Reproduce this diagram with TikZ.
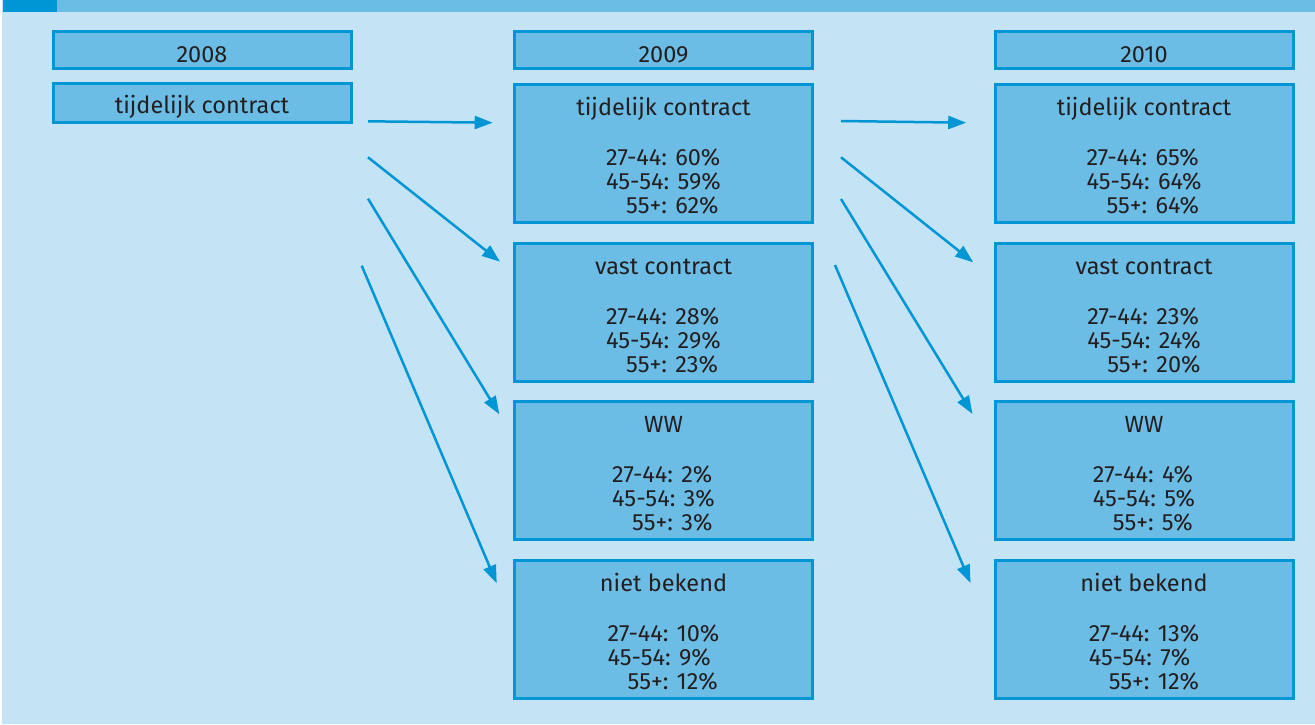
\documentclass[tikz,border=0pt]{standalone}
\usepackage{fontspec}
\setmainfont{Fira Sans}
\usetikzlibrary{arrows.meta,calc}
\definecolor{bgblue}{HTML}{C4E3F5}
\definecolor{fillblue}{HTML}{6CBDE6}
\definecolor{lineblue}{HTML}{0096D6}
\definecolor{txt}{HTML}{231F20}
\newcommand{\ttl}[1]{\rule{0pt}{29.2pt}#1\\[26pt]}
\newcommand{\stats}[3]{\begin{tabular}[t]{@{}l@{}}#1\\#2\\\hspace*{20pt}#3\end{tabular}}
\begin{document}
\begin{tikzpicture}[x=1pt,y=-1pt,
  box/.style={draw=lineblue, line width=3pt, fill=fillblue, minimum width=298pt,
    inner sep=0pt, align=center, text=txt,
    font=\fontsize{23.5}{24}\selectfont},
  headbox/.style={box, minimum height=37pt, text height=30pt, text depth=5pt},
  statbox/.style={box, minimum height=138pt},
  arr/.style={draw=lineblue, line width=2.5pt, -{Triangle[length=18pt,width=13pt]}}]
\useasboundingbox (0,0) rectangle (1315,724);
\fill[bgblue] (2,0) rectangle (1315,724);
\fill[fillblue] (3,0) rectangle (1315,12);
\fill[lineblue] (3,0) rectangle (57,12);
% column 2008
\node[headbox] (h8) at (202,50) {2008};
\node[box, minimum height=39pt, text height=24pt, text depth=3.4pt] (t8) at (202,103) {tijdelijk contract};
% column 2009
\node[headbox] (h9) at (663.5,50) {2009};
\node[statbox] (t9) at (663.5,153.5) {\ttl{tijdelijk contract}\stats{27-44: 60\%}{45-54: 59\%}{55+: 62\%}};
\node[statbox] (v9) at (663.5,312) {\ttl{vast contract}\stats{27-44: 28\%}{45-54: 29\%}{55+: 23\%}};
\node[statbox] (w9) at (663.5,470.5) {\ttl{WW}\stats{27-44: 2\%}{45-54: 3\%}{55+: 3\%}};
\node[statbox] (n9) at (663.5,629) {\ttl{niet bekend}\stats{27-44: 10\%}{45-54: 9\%}{55+: 12\%}};
% column 2010
\node[headbox] (h10) at (1144,50) {2010};
\node[statbox] (t10) at (1144,153.5) {\ttl{tijdelijk contract}\stats{27-44: 65\%}{45-54: 64\%}{55+: 64\%}};
\node[statbox] (v10) at (1144,312) {\ttl{vast contract}\stats{27-44: 23\%}{45-54: 24\%}{55+: 20\%}};
\node[statbox] (w10) at (1144,470.5) {\ttl{WW}\stats{27-44: 4\%}{45-54: 5\%}{55+: 5\%}};
\node[statbox] (n10) at (1144,629) {\ttl{niet bekend}\stats{27-44: 13\%}{45-54: 7\%}{55+: 12\%}};
% arrow start points
\coordinate (s11) at (368,121.3);
\coordinate (s12) at (368,157.3);
\coordinate (s13) at (368,198.7);
\coordinate (s14) at (361.7,265.7);
\coordinate (s21) at (841,121);
\coordinate (s22) at (841,157.3);
\coordinate (s23) at (841,199);
\coordinate (s24) at (835,265);
% arrows 2008 -> 2009
\draw[arr] (s11) -- ($(t9.west)+(-20.3,-30.8)$);
\draw[arr] (s12) -- ($(v9.west)+(-13,-50.3)$);
\draw[arr] (s13) -- ($(w9.west)+(-13.7,-56.2)$);
\draw[arr] (s14) -- ($(n9.west)+(-16.3,-45.7)$);
% arrows 2009 -> 2010
\draw[arr] (s21) -- ($(t10.west)+(-27.3,-30.8)$);
\draw[arr] (s22) -- ($(v10.west)+(-20.3,-49.7)$);
\draw[arr] (s23) -- ($(w10.west)+(-21,-56.5)$);
\draw[arr] (s24) -- ($(n10.west)+(-23,-46)$);
\end{tikzpicture}
\end{document}
